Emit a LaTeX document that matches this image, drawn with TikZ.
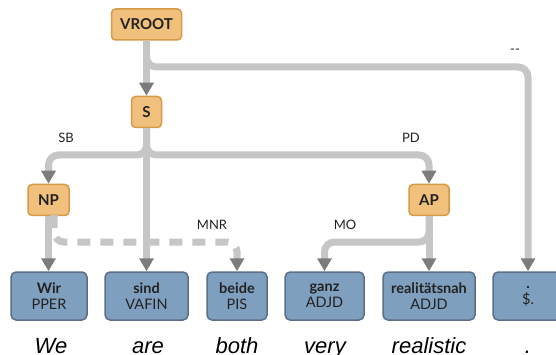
\documentclass[tikz,border=0pt]{standalone}
\usepackage{fontspec}
\setmainfont{Lato}
\newfontfamily\glossfont{Liberation Sans}
\usetikzlibrary{arrows.meta}

\definecolor{catfill}{HTML}{F0C07C}
\definecolor{catdraw}{HTML}{D49A48}
\definecolor{tokfill}{HTML}{7F9FBF}
\definecolor{tokdraw}{HTML}{5C6F86}
\definecolor{edgec}{HTML}{C6C6C6}
\definecolor{tipc}{HTML}{7C7C7C}
\definecolor{textc}{HTML}{222222}

\tikzset{
  cat/.style={draw=catdraw, fill=catfill, line width=1.5pt, rounded corners=4pt,
    text=textc, font=\fontsize{15}{15}\selectfont\bfseries,
    minimum height=31pt, inner sep=0pt},
  tok/.style={draw=tokdraw, fill=tokfill, line width=1.5pt, rounded corners=5pt,
    text=textc, font=\fontsize{14.5}{16}\selectfont, align=center,
    minimum height=48pt, inner sep=0pt},
  edge/.style={draw=edgec, line width=7pt, rounded corners=10pt,
    -{Triangle[width=14pt,length=13pt,color=tipc]}},
  dashedge/.style={edge, dash pattern=on 13pt off 10pt},
  lbl/.style={text=textc, font=\fontsize{13}{13}\selectfont, inner sep=0pt},
  gloss/.style={text=black, font=\glossfont\itshape\fontsize{22}{22}\selectfont,
    anchor=base, inner sep=0pt},
}

\begin{document}
\begin{tikzpicture}[x=1pt, y=-1pt]
  \clip (0,0) rectangle (556,355);

  % phrase nodes
  \node[cat, minimum width=70pt] (vroot) at (146.5,24.5) {VROOT};
  \node[cat, minimum width=30pt] (s)     at (146.5,112) {S};
  \node[cat, minimum width=41pt] (np)    at (48.5,200) {NP};
  \node[cat, minimum width=40pt] (ap)    at (429,200) {AP};

  % tokens with their tags
  \node[tok, minimum width=76pt] (wir)   at (49,296)  {\textbf{Wir}\\PPER};
  \node[tok, minimum width=83pt] (sind)  at (146.5,296) {\textbf{sind}\\VAFIN};
  \node[tok, minimum width=60pt] (beide) at (237,296) {\textbf{beide}\\PIS};
  \node[tok, minimum width=79pt] (ganz)  at (324.5,296) {\textbf{ganz}\\ADJD};
  \node[tok, minimum width=92pt] (real)  at (429,296) {\textbf{realitätsnah}\\ADJD};
  \node[tok, minimum width=70pt] (punct) at (528,296) {\textbf{.}\\\$.};

  % helper points for the branching edges
  \coordinate (vsplit) at (146.5,67);
  \coordinate (ssplit) at (146.5,155);
  \coordinate (apsplit) at (429,242);
  \coordinate (mnrstart) at (54,215);

  % edges
  \draw[edge] (vroot.south) -- (s.north);
  \draw[edge] (vroot.south) |- (vsplit -| punct.north) -- (punct.north);
  \draw[edge] (s.south) |- (ssplit -| np.north) -- (np.north);
  \draw[edge] (s.south) -- (sind.north);
  \draw[edge] (s.south) |- (ssplit -| ap.north) -- (ap.north);
  \draw[edge] (np.south) -- (np.south |- wir.north);
  \draw[dashedge] (mnrstart) |- (apsplit -| beide.north) -- (beide.north);
  \draw[edge] (ap.south) |- (apsplit -| ganz.north) -- (ganz.north);
  \draw[edge] (ap.south) -- (real.north);

  % edge labels
  \node[lbl] (l-root) at (515,51)  {-{}-};
  \node[lbl] (l-sb)   at (66,138)  {SB};
  \node[lbl] (l-pd)   at (411,138) {PD};
  \node[lbl] (l-mnr)  at (212,225) {MNR};
  \node[lbl] (l-mo)   at (345,225) {MO};

  % English glosses
  \node[gloss] (g1) at (51,353)  {We};
  \node[gloss] (g2) at (148,353) {are};
  \node[gloss] (g3) at (237,353) {both};
  \node[gloss] (g4) at (325,353) {very};
  \node[gloss] (g5) at (429,353) {realistic};
  \node[gloss] (g6) at (528,353) {.};
\end{tikzpicture}
\end{document}
